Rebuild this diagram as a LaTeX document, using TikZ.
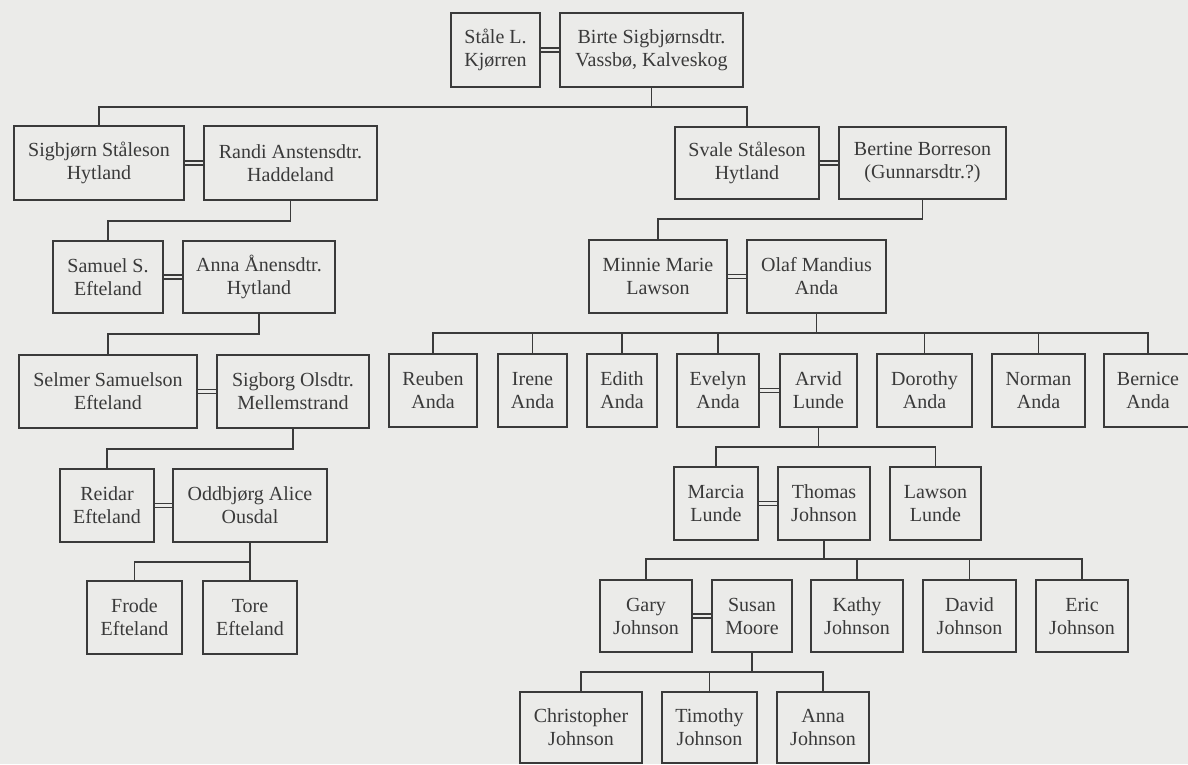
\documentclass[tikz,border=0pt]{standalone}
\usepackage{fontspec}
\setmainfont{Liberation Serif}
\definecolor{paper}{HTML}{EBEBE9}
\definecolor{ink}{HTML}{3A3A3A}
\begin{document}
\begin{tikzpicture}[x=1pt,y=-1pt,
  person/.style={draw=ink, line width=1.8pt, text=ink, inner sep=0pt, align=center,
    font=\fontsize{20}{23}\selectfont},
  link/.style={draw=ink, line width=1.8pt},
  wed/.style={draw=ink, line width=1.4pt, double=paper, double distance=2.4pt}]
\fill[paper] (0,0) rectangle (1188,764);
\useasboundingbox (0,0) rectangle (1188,764);
% helper: box by corners
\newcommand{\pbox}[6]{\node[person, minimum width={#3-#2}, minimum height={#5-#4}] (#1) at ({(#2+#3)/2},{(#4+#5)/2}) {#6};}
\pbox{stale}{451}{540}{13}{87}{Ståle L.\\Kjørren}
\pbox{birte}{560}{743}{13}{87}{Birte Sigbjørnsdtr.\\Vassbø, Kalveskog}
\pbox{sigbjorn}{14}{184}{126}{200}{Sigbjørn Ståleson\\Hytland}
\pbox{randi}{204}{377}{126}{200}{Randi Anstensdtr.\\Haddeland}
\pbox{svale}{675}{819}{127}{199}{Svale Ståleson\\Hytland}
\pbox{bertine}{839}{1006}{127}{199}{Bertine Borreson\\(Gunnarsdtr.?)}
\pbox{samuel}{53}{163}{241}{313}{Samuel S.\\Efteland}
\pbox{annaa}{183}{335}{241}{313}{Anna Ånensdtr.\\Hytland}
\pbox{minnie}{589}{727}{240}{313}{Minnie Marie\\Lawson}
\pbox{olaf}{747}{886}{240}{313}{Olaf Mandius\\Anda}
\pbox{selmer}{19}{197}{355}{428}{Selmer Samuelson\\Efteland}
\pbox{sigborg}{217}{369}{355}{428}{Sigborg Olsdtr.\\Mellemstrand}
\pbox{reuben}{389}{477}{354}{427}{Reuben\\Anda}
\pbox{irene}{498}{567}{354}{427}{Irene\\Anda}
\pbox{edith}{587}{657}{354}{427}{Edith\\Anda}
\pbox{evelyn}{677}{759}{354}{427}{Evelyn\\Anda}
\pbox{arvid}{780}{857}{354}{427}{Arvid\\Lunde}
\pbox{dorothy}{877}{972}{354}{427}{Dorothy\\Anda}
\pbox{norman}{992}{1085}{354}{427}{Norman\\Anda}
\pbox{bernice}{1104}{1192}{354}{427}{Bernice\\Anda}
\pbox{reidar}{60}{154}{469}{542}{Reidar\\Efteland}
\pbox{oddbjorg}{173}{327}{469}{542}{Oddbjørg Alice\\Ousdal}
\pbox{marcia}{674}{758}{467}{540}{Marcia\\Lunde}
\pbox{thomas}{778}{870}{467}{540}{Thomas\\Johnson}
\pbox{lawson}{890}{981}{467}{540}{Lawson\\Lunde}
\pbox{frode}{87}{182}{581}{654}{Frode\\Efteland}
\pbox{tore}{203}{297}{581}{654}{Tore\\Efteland}
\pbox{gary}{600}{692}{580}{652}{Gary\\Johnson}
\pbox{susan}{712}{792}{580}{652}{Susan\\Moore}
\pbox{kathy}{811}{903}{580}{652}{Kathy\\Johnson}
\pbox{david}{923}{1016}{580}{652}{David\\Johnson}
\pbox{eric}{1036}{1128}{580}{652}{Eric\\Johnson}
\pbox{chris}{520}{642}{692}{763}{Christopher\\Johnson}
\pbox{timothy}{662}{757}{692}{763}{Timothy\\Johnson}
\pbox{annab}{777}{869}{692}{763}{Anna\\Johnson}
% marriages
\foreach \a/\b in {stale/birte,sigbjorn/randi,svale/bertine,samuel/annaa,minnie/olaf,
  selmer/sigborg,evelyn/arvid,reidar/oddbjorg,marcia/thomas,gary/susan}
  \draw[wed] (\a.east) -- (\b.west);
% descent
\draw[link] (birte.south) -- (birte.south |- 0,107);
\draw[link] (sigbjorn.north) -- (sigbjorn.north |- 0,107) -- (svale.north |- 0,107) -- (svale.north);
\draw[link] (randi.south) -- (randi.south |- 0,221) -| (samuel.north);
\draw[link] (annaa.south) -- (annaa.south |- 0,334) -| (selmer.north);
\draw[link] (sigborg.south) -- (sigborg.south |- 0,449) -| (reidar.north);
\draw[link] (oddbjorg.south) -- (tore.north);
\draw[link] (oddbjorg.south |- 0,562) -| (frode.north);
\draw[link] (bertine.south) -- (bertine.south |- 0,219) -| (minnie.north);
\draw[link] (olaf.south) -- (olaf.south |- 0,333);
\draw[link] (reuben.north) -- (reuben.north |- 0,333) -- (bernice.north |- 0,333) -- (bernice.north);
\foreach \c in {irene,edith,evelyn,dorothy,norman}
  \draw[link] (\c.north) -- (\c.north |- 0,333);
\draw[link] (arvid.south) -- (arvid.south |- 0,447);
\draw[link] (marcia.north) -- (marcia.north |- 0,447) -- (lawson.north |- 0,447) -- (lawson.north);
\draw[link] (thomas.south) -- (thomas.south |- 0,559);
\draw[link] (gary.north) -- (gary.north |- 0,559) -- (eric.north |- 0,559) -- (eric.north);
\foreach \c in {kathy,david}
  \draw[link] (\c.north) -- (\c.north |- 0,559);
\draw[link] (susan.south) -- (susan.south |- 0,672);
\draw[link] (chris.north) -- (chris.north |- 0,672) -- (annab.north |- 0,672) -- (annab.north);
\draw[link] (timothy.north) -- (timothy.north |- 0,672);
\end{tikzpicture}
\end{document}
